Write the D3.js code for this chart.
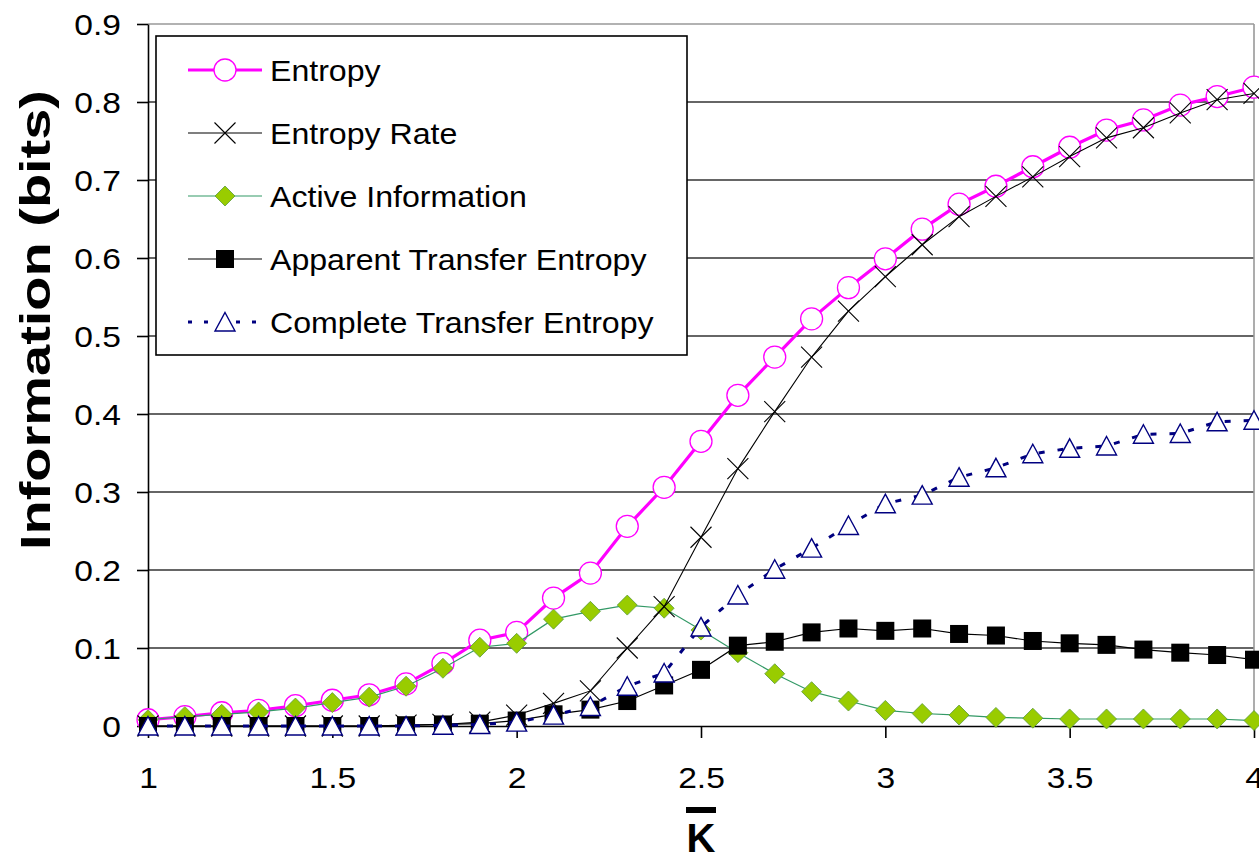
<!DOCTYPE html>
<html><head><meta charset="utf-8">
<script src="https://cdn.jsdelivr.net/npm/d3@7/dist/d3.min.js"></script>
<style>html,body{margin:0;padding:0;background:#fff;}svg{display:block;font-family:"Liberation Sans",Arial,sans-serif;}</style>
</head><body>
<svg id="chart" width="1259" height="855"></svg>
<script>
const kValues = [1.0,1.1,1.2,1.3,1.4,1.5,1.6,1.7,1.8,1.9,2.0,2.1,2.2,2.3,2.4,2.5,2.6,2.7,2.8,2.9,3.0,3.1,3.2,3.3,3.4,3.5,3.6,3.7,3.8,3.9,4.0];
const entropy = [0.008,0.012,0.017,0.020,0.026,0.033,0.040,0.054,0.080,0.110,0.120,0.164,0.196,0.256,0.306,0.365,0.424,0.473,0.522,0.562,0.599,0.637,0.669,0.692,0.717,0.742,0.764,0.777,0.796,0.807,0.819];
const entropyRate = [0.000,0.000,0.000,0.000,0.000,0.000,0.000,0.001,0.002,0.005,0.014,0.029,0.045,0.100,0.153,0.242,0.330,0.403,0.473,0.532,0.576,0.617,0.653,0.679,0.704,0.730,0.754,0.767,0.786,0.803,0.811];
const activeInfo = [0.008,0.012,0.015,0.018,0.023,0.030,0.037,0.051,0.074,0.101,0.106,0.137,0.147,0.155,0.151,0.123,0.094,0.067,0.044,0.032,0.020,0.016,0.014,0.011,0.010,0.009,0.009,0.009,0.009,0.009,0.007];
const apparentTE = [0.000,0.000,0.000,0.000,0.000,0.000,0.000,0.001,0.002,0.003,0.007,0.015,0.021,0.032,0.052,0.072,0.103,0.108,0.120,0.125,0.122,0.125,0.118,0.116,0.109,0.106,0.104,0.098,0.094,0.091,0.085];
const completeTE = [0.000,0.000,0.000,0.000,0.000,0.000,0.000,0.000,0.001,0.002,0.005,0.014,0.025,0.051,0.068,0.127,0.168,0.201,0.228,0.257,0.285,0.296,0.319,0.331,0.349,0.356,0.359,0.374,0.375,0.390,0.392];
const yTicks = [0,0.1,0.2,0.3,0.4,0.5,0.6,0.7,0.8,0.9];
const yTickLabels = ["0","0.1","0.2","0.3","0.4","0.5","0.6","0.7","0.8","0.9"];
const xTicks = [1,1.5,2,2.5,3,3.5,4];
const xTickLabels = ["1","1.5","2","2.5","3","3.5","4"];
const seriesNames = ["Entropy","Entropy Rate","Active Information","Apparent Transfer Entropy","Complete Transfer Entropy"];
const yTitle = "Information (bits)";
const xTitle = "K";

const svg = d3.select("#chart");
const L = 148, R = 1254, T = 24, B = 726;
const x = d3.scaleLinear().domain([1,4]).range([L,R]);
const y = d3.scaleLinear().domain([0,0.9]).range([B,T]);

function stretch(sel, f){ sel.each(function(){ const w=this.getComputedTextLength(); d3.select(this).attr("textLength", w*f).attr("lengthAdjust","spacingAndGlyphs"); }); }

// gridlines
svg.append("g").selectAll("line").data(yTicks.slice(1,-1)).join("line")
  .attr("x1",L).attr("x2",R).attr("y1",d=>y(d)).attr("y2",d=>y(d))
  .attr("stroke","#333").attr("stroke-width",1.6);
// plot border top/right gray
svg.append("line").attr("x1",L).attr("x2",R).attr("y1",T).attr("y2",T).attr("stroke","#999").attr("stroke-width",1.6);
svg.append("line").attr("x1",R).attr("x2",R).attr("y1",T).attr("y2",B).attr("stroke","#999").attr("stroke-width",1.6);

// y axis
const yAxis = svg.append("g").attr("transform",`translate(${L},0)`)
  .call(d3.axisLeft(y).tickValues(yTicks).tickFormat((d,i)=>yTickLabels[i]).tickSize(11).tickSizeOuter(0));
yAxis.select(".domain").attr("stroke","#000").attr("stroke-width",1.6);
yAxis.selectAll(".tick line").attr("stroke","#000").attr("stroke-width",1.6);
yAxis.selectAll(".tick text").attr("font-size",30).attr("fill","#000").attr("font-family","Liberation Sans, Arial, sans-serif")
  .attr("x",-27).attr("dy","0.36em");
stretch(yAxis.selectAll(".tick text"),1.12);

// x axis
const xAxis = svg.append("g").attr("transform",`translate(0,${B})`)
  .call(d3.axisBottom(x).tickValues(xTicks).tickFormat((d,i)=>xTickLabels[i]).tickSize(12).tickSizeOuter(0));
xAxis.select(".domain").attr("stroke","#000").attr("stroke-width",1.6);
xAxis.selectAll(".tick line").attr("stroke","#000").attr("stroke-width",1.6);
xAxis.selectAll(".tick text").attr("font-size",30).attr("fill","#000").attr("font-family","Liberation Sans, Arial, sans-serif")
  .attr("y",62).attr("dy",0);
stretch(xAxis.selectAll(".tick text"),1.12);

// titles
const yt = svg.append("text").attr("transform","translate(50,320) rotate(-90)").attr("text-anchor","middle")
  .attr("font-size",42).attr("font-weight","bold").text(yTitle);
yt.attr("textLength",460).attr("lengthAdjust","spacingAndGlyphs");
svg.append("text").attr("x",x(2.5)).attr("y",852).attr("text-anchor","middle").attr("font-size",40).attr("font-weight","bold").text(xTitle);
svg.append("rect").attr("x",x(2.5)-15).attr("y",807).attr("width",30).attr("height",6).attr("fill","#000");

// marker drawers
const markers = {
  circle:(g,px,py)=>g.append("circle").attr("cx",px).attr("cy",py).attr("r",11).attr("fill","#fff").attr("stroke","#ff00ff").attr("stroke-width",1.3),
  cross:(g,px,py)=>g.append("path").attr("d",`M${px-10.5},${py-10.5}L${px+10.5},${py+10.5}M${px-10.5},${py+10.5}L${px+10.5},${py-10.5}`).attr("stroke","#000").attr("stroke-width",1.1).attr("fill","none"),
  diamond:(g,px,py)=>g.append("path").attr("d",`M${px},${py-10}L${px+10},${py}L${px},${py+10}L${px-10},${py}Z`).attr("fill","#99cc00").attr("stroke","#5a9a3a").attr("stroke-width",0.8),
  square:(g,px,py)=>g.append("rect").attr("x",px-9).attr("y",py-9).attr("width",18).attr("height",18).attr("fill","#000"),
  triangle:(g,px,py)=>g.append("path").attr("d",`M${px},${py-9.5}L${px+10},${py+9}L${px-10},${py+9}Z`).attr("fill","#fff").attr("stroke","#000080").attr("stroke-width",1.4)
};
const series = [
  {name:seriesNames[0], data:entropy, color:"#ff00ff", width:3.2, dash:null, marker:"circle"},
  {name:seriesNames[2], data:activeInfo, color:"#339966", width:1.2, dash:null, marker:"diamond"},
  {name:seriesNames[3], data:apparentTE, color:"#000", width:1.2, dash:null, marker:"square"},
  {name:seriesNames[1], data:entropyRate, color:"#000", width:1.1, dash:null, marker:"cross"},
  {name:seriesNames[4], data:completeTE, color:"#000080", width:3, dash:"6,13", marker:"triangle"}
];
const line = d3.line().x((d,i)=>x(kValues[i])).y(d=>y(d));
series.forEach(s=>{
  const g = svg.append("g");
  g.append("path").datum(s.data).attr("d",line).attr("fill","none").attr("stroke",s.color).attr("stroke-width",s.width)
    .attr("stroke-dasharray",s.dash);
  s.data.forEach((v,i)=>markers[s.marker](g,x(kValues[i]),y(v)));
});

// legend
const lg = svg.append("g");
lg.append("rect").attr("x",156).attr("y",36).attr("width",531).attr("height",319).attr("fill","#fff").attr("stroke","#000").attr("stroke-width",1.6);
const legendOrder = [
  {name:seriesNames[0], color:"#ff00ff", width:3.2, dash:null, marker:"circle"},
  {name:seriesNames[1], color:"#000", width:1.1, dash:null, marker:"cross"},
  {name:seriesNames[2], color:"#339966", width:1.2, dash:null, marker:"diamond"},
  {name:seriesNames[3], color:"#000", width:1.2, dash:null, marker:"square"},
  {name:seriesNames[4], color:"#000080", width:3, dash:"4,12", marker:"triangle"}
];
legendOrder.forEach((s,i)=>{
  const cy = 70 + i*63;
  lg.append("line").attr("x1",188).attr("x2",262).attr("y1",cy).attr("y2",cy).attr("stroke",s.color).attr("stroke-width",s.width).attr("stroke-dasharray",s.dash);
  markers[s.marker](lg,225,cy);
  const t = lg.append("text").attr("x",270).attr("y",cy+11).attr("font-size",30).attr("fill","#000").text(s.name);
  stretch(t,1.07);
});
</script>
</body></html>
